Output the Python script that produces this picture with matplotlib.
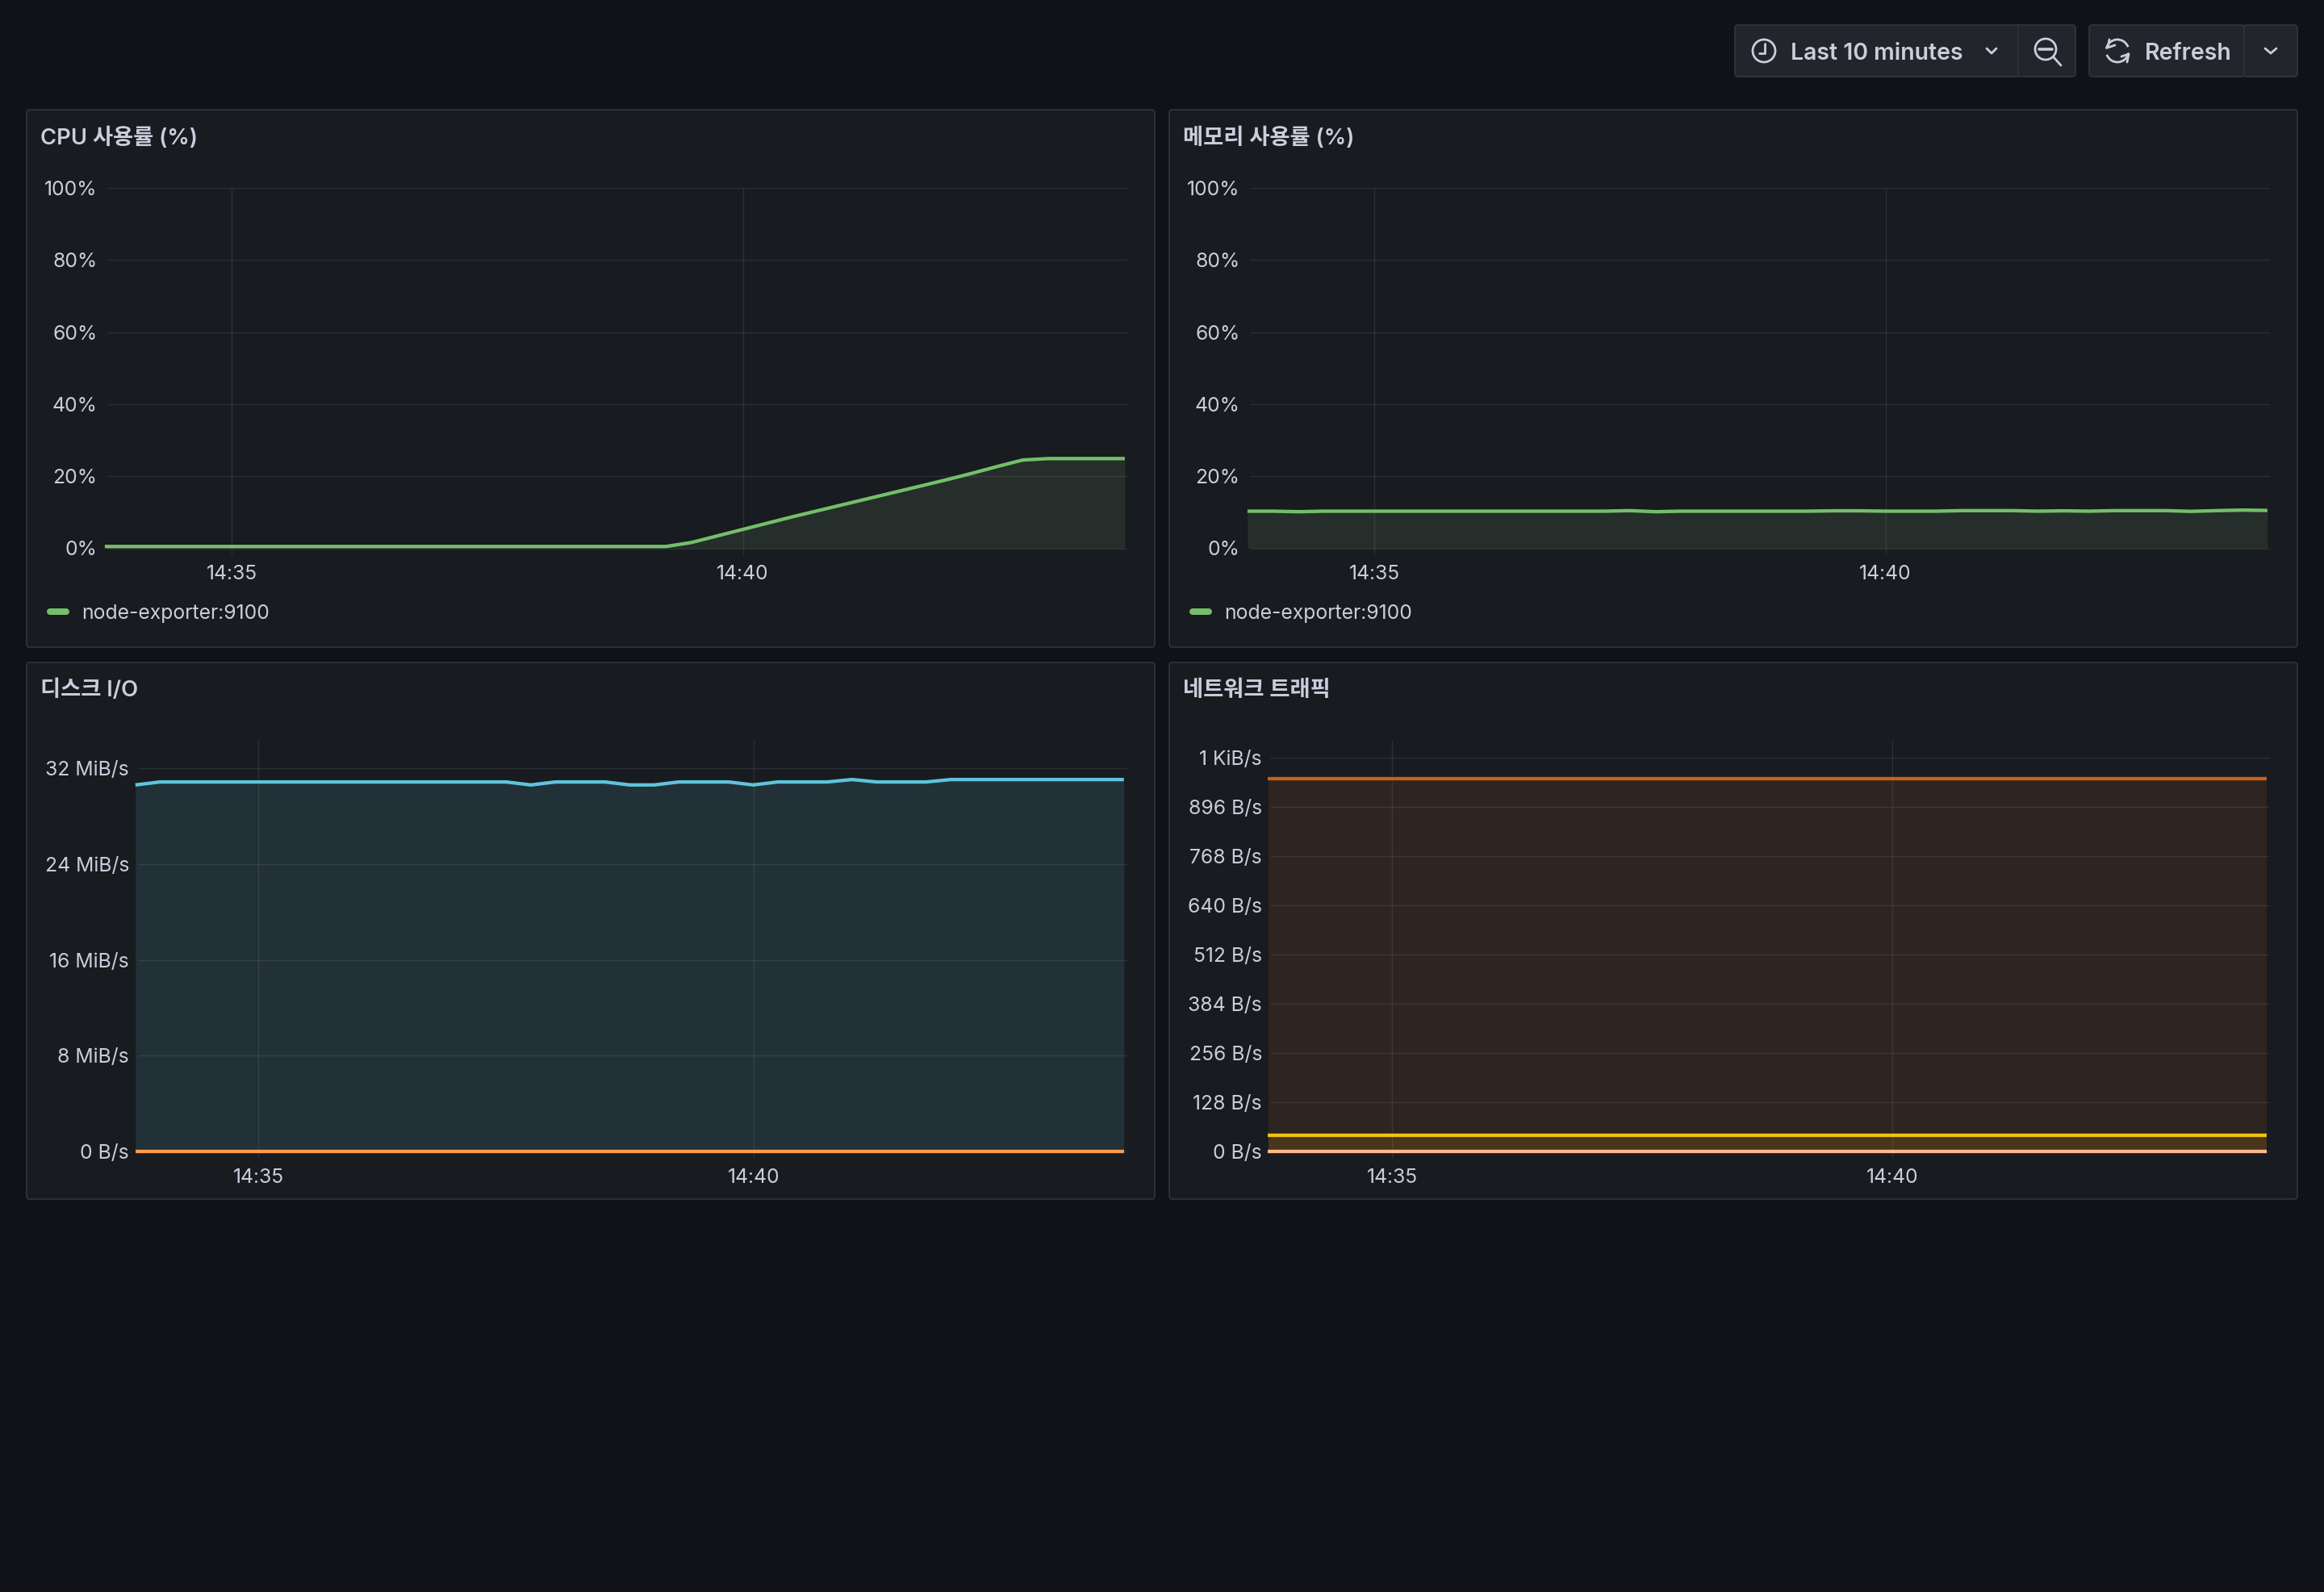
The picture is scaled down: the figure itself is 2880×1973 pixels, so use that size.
import numpy as np
import matplotlib
matplotlib.use("Agg")
import matplotlib.pyplot as plt
from matplotlib.patches import FancyBboxPatch, Circle, Arc
from matplotlib.lines import Line2D

W, H = 2880, 1974

plt.rcParams['font.family'] = ['Inter', 'Noto Sans CJK KR', 'DejaVu Sans']

BG = "#111217"
PANEL = "#181b1f"
BORDER = "#2c2f35"
TEXT = "#ccccdc"
BTN = "#22252b"
BTN_EDGE = "#2e3138"

# 15 second samples in minutes after 14:30
times = 3.76 + 0.2494 * np.arange(41)
time_ticks = [5, 10]
time_labels = ["14:35", "14:40"]

cpu = [0.5] * 23 + [1.6, 3.4, 5.2, 7.0, 8.8, 10.5, 12.2, 13.9, 15.6, 17.3, 19.0,
                    20.8, 22.7, 24.5, 24.9, 24.9, 24.9, 24.9]
mem = [10.3, 10.3, 10.15, 10.3, 10.3, 10.3, 10.3, 10.3, 10.3, 10.3, 10.3, 10.3,
       10.3, 10.3, 10.3, 10.45, 10.15, 10.3, 10.3, 10.3, 10.3, 10.3, 10.3, 10.4,
       10.4, 10.3, 10.3, 10.3, 10.45, 10.45, 10.45, 10.3, 10.4, 10.3, 10.45, 10.45,
       10.45, 10.25, 10.45, 10.6, 10.5]
# MiB/s
disk_read = [30.6] + [30.85] * 15 + [30.6, 30.85, 30.85, 30.85, 30.6, 30.6, 30.85,
             30.85, 30.85, 30.6, 30.85, 30.85, 30.85, 31.05, 30.85, 30.85, 30.85] + [31.05] * 8
disk_write = [0.0] * 41
# B/s
net_a = [970] * 41
net_b = [42] * 41
net_c = [0] * 41

pct_ticks = [0, 20, 40, 60, 80, 100]
pct_labels = ["0%", "20%", "40%", "60%", "80%", "100%"]
disk_ticks = [0, 8, 16, 24, 32]
disk_labels = ["0 B/s", "8 MiB/s", "16 MiB/s", "24 MiB/s", "32 MiB/s"]
net_ticks = [0, 128, 256, 384, 512, 640, 768, 896, 1024]
net_labels = ["0 B/s", "128 B/s", "256 B/s", "384 B/s", "512 B/s", "640 B/s", "768 B/s", "896 B/s", "1 KiB/s"]

GREEN = "#73bf69"
BLUE = "#5ec4dc"
ORANGE = "#c4621c"
AMBER = "#ff9a4d"
YELLOW = "#f2c40f"
PEACH = "#ffb88c"
LW = 4.3 * 72 / 200
FS = 8.9
DY = 3

fig = plt.figure(figsize=(W / 200, H / 200), dpi=200, facecolor=BG)
bg = fig.add_axes([0, 0, 1, 1])
bg.set_xlim(0, W)
bg.set_ylim(H, 0)
bg.axis("off")


def round_box(x0, y0, x1, y1, face, edge, r=4, lw=2):
    bg.add_patch(FancyBboxPatch((x0, y0), x1 - x0, y1 - y0, boxstyle=f"round,pad=0,rounding_size={r}",
                                fc=face, ec=edge, lw=lw * 72 / 200))


def panel(box, title, left, right, top, zero_y, max_y, ticks, labels, tick_x, tick_pos, label_y):
    """box is the panel frame in pixels; top/zero_y/max_y set the plot area and y scale."""
    round_box(*box, PANEL, BORDER)
    bg.text(box[0] + 17, box[1] + 31 + DY, title, color=TEXT, fontsize=9.85, fontweight="semibold", va="center", ha="left")

    bottom = zero_y + 8
    ax = fig.add_axes([left / W, 1 - bottom / H, (right - left) / W, (bottom - top) / H])
    ax.patch.set_alpha(0)
    for s in ax.spines.values():
        s.set_visible(False)
    # y scale comes from the pixel rows of zero and the top tick
    per_px = ticks[-1] / (zero_y - max_y)
    ax.set_ylim(-(bottom - zero_y) * per_px, (zero_y - top) * per_px)
    # x scale comes from the pixel columns of the two time ticks
    per_min = 5 / (tick_pos[1] - tick_pos[0])
    ax.set_xlim(5 + (left - tick_pos[0]) * per_min, 5 + (right - tick_pos[0]) * per_min)
    ax.set_xticks(time_ticks)
    ax.set_xticklabels([])
    ax.set_yticks(ticks)
    ax.set_yticklabels([])
    ax.tick_params(length=0)
    ax.hlines(ticks, 2.5 / (right - left), 1, transform=ax.get_yaxis_transform(), color=TEXT, alpha=0.11, lw=0.5, zorder=1)
    ax.vlines(time_ticks, 0, 1, transform=ax.get_xaxis_transform(), color=TEXT, alpha=0.11, lw=0.5, zorder=1)
    for v, s in zip(ticks, labels):
        y = zero_y - v / per_px
        bg.text(tick_x, y - 1.5 + DY, s, color=TEXT, fontsize=FS, ha="right", va="center")
    for p, s in zip(tick_pos, time_labels):
        bg.text(p, label_y + DY, s, color=TEXT, fontsize=FS, ha="center", va="center")
    return ax


def series(ax, values, color, fill, alpha=1.0):
    ax.fill_between(times, 0, values, color=fill, lw=0, alpha=alpha, zorder=0)
    ax.plot(times, values, color=color, lw=LW, solid_capstyle="butt", solid_joinstyle="round",
            zorder=3, clip_on=False)


def legend(x, y, label):
    bg.add_line(Line2D([x + 8, x + 28], [y, y], color=GREEN, lw=8 * 72 / 200, solid_capstyle="round"))
    bg.text(x + 47, y + DY - 1, label, color=TEXT, fontsize=FS, va="center", ha="left")


# top row
ax1 = panel((33, 137, 1431, 803), "CPU 사용률 (%)", 130, 1397, 234, 680.5, 234, pct_ticks, pct_labels,
            120.5, (287, 920.5), 708)
series(ax1, cpu, GREEN, "#252e2a")
legend(54, 759, "node-exporter:9100")

ax2 = panel((1449, 137, 2847, 803), "메모리 사용률 (%)", 1546, 2813, 234, 680.5, 234, pct_ticks, pct_labels,
            1536.5, (1703, 2336.5), 708)
series(ax2, mem, GREEN, "#252e2a")
legend(1470, 759, "node-exporter:9100")

# bottom row
ax3 = panel((33, 822, 1431, 1487), "디스크 I/O", 168, 1397, 918, 1428, 953, disk_ticks, disk_labels,
            160, (320, 934), 1456)
series(ax3, disk_read, BLUE, "#223037")
series(ax3, disk_write, AMBER, PANEL, alpha=0)

ax4 = panel((1449, 822, 2847, 1487), "네트워크 트래픽", 1572, 2813, 918, 1428, 940, net_ticks, net_labels,
            1564, (1725, 2345.4), 1456)
series(ax4, net_a, ORANGE, "#2e2520")
series(ax4, net_b, YELLOW, "#47351c")
series(ax4, net_c, PEACH, "#47351c", alpha=0)

# toolbar
round_box(2150, 32, 2572, 96, BTN, BTN_EDGE)
round_box(2589, 32, 2782, 96, BTN, BTN_EDGE)
round_box(2781, 32, 2847, 96, BTN, BTN_EDGE)
bg.add_line(Line2D([2501, 2501], [33, 95], color=BTN_EDGE, lw=0.7))

icon = dict(color=TEXT, lw=1.0, solid_capstyle="round", solid_joinstyle="round")
bg.add_patch(Circle((2186, 64), 14, fc="none", ec=TEXT, lw=1.0))
bg.add_line(Line2D([2187, 2187, 2180], [55, 67, 67], **icon))
bg.text(2219, 64 + DY, "Last 10 minutes", color=TEXT, fontsize=10.25, fontweight="semibold", va="center", ha="left")
bg.add_line(Line2D([2462, 2468, 2474], [61, 67, 61], **icon))
bg.add_patch(Circle((2535, 62), 13, fc="none", ec=TEXT, lw=1.0))
bg.add_line(Line2D([2527, 2543], [62, 62], color=TEXT, lw=1.3, solid_capstyle="round"))
bg.add_line(Line2D([2545, 2554], [72, 82], **icon))
bg.add_patch(Arc((2624, 64), 28, 28, theta1=190, theta2=340, ec=TEXT, lw=1.0))
bg.add_patch(Arc((2624, 64), 28, 28, theta1=10, theta2=160, ec=TEXT, lw=1.0))
bg.add_line(Line2D([2614, 2612, 2621], [50, 60, 57], **icon))
bg.add_line(Line2D([2636, 2638, 2629], [78, 68, 71], **icon))
bg.text(2658, 64 + DY, "Refresh", color=TEXT, fontsize=10.25, fontweight="semibold", va="center", ha="left")
bg.add_line(Line2D([2807, 2814, 2821], [61, 67, 61], **icon))

bg.set_zorder(0)
fig.savefig("out.png", dpi=200, facecolor=BG)
